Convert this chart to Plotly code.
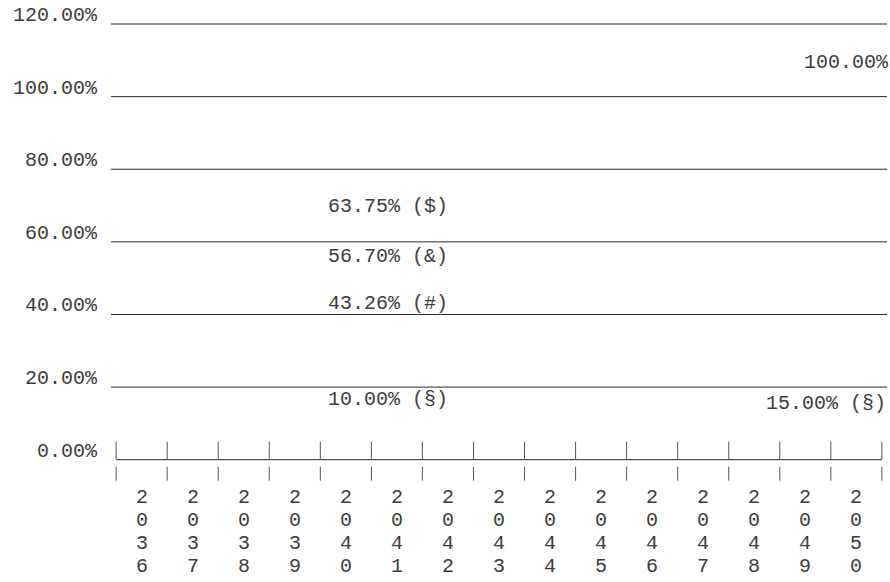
import plotly.graph_objects as go

# ---- data ----
years = list(range(2036, 2051))
y_tick_values = [0, 20, 40, 60, 80, 100, 120]
y_tick_labels = ["0.00%", "20.00%", "40.00%", "60.00%", "80.00%", "100.00%", "120.00%"]

label_years = [2050, 2041, 2041, 2041, 2041, 2050]
label_values = [100.00, 63.75, 56.70, 43.26, 10.00, 15.00]
label_suffixes = ["", " ($)", " (&)", " (#)", " (§)", " (§)"]

# ---- style / placement ----
FONT = "Liberation Mono, Courier New, monospace"
FS = 20
TXT = "#3c3c3c"
LINE = "#2a2a2a"
label_yshift = [24, 12, -13, -11, 14, -8]
label_anchor = ["right", "center", "center", "center", "center", "right"]
label_xshift = [35, -9, -9, -9, -9, 32]

fig = go.Figure()
fig.add_trace(go.Scatter(x=years, y=[None] * len(years), mode="lines",
                         showlegend=False, hoverinfo="skip"))

shapes = []
x_lo, x_hi = years[0] - 0.6, years[-1] + 0.6
for v in y_tick_values:
    if v == 0:
        x0, x1 = years[0] - 0.5, years[-1] + 0.5
    else:
        x0, x1 = x_lo, x_hi
    shapes.append(dict(type="line", xref="x", yref="y", x0=x0, x1=x1,
                       ysizemode="pixel", yanchor=v, y0=-10, y1=-10,
                       line=dict(color=LINE, width=1)))
for i in range(len(years) + 1):
    b = years[0] - 0.5 + i
    for (a0, a1) in [(8, -10), (-17, -31)]:
        shapes.append(dict(type="line", xref="x", yref="y", x0=b, x1=b,
                           ysizemode="pixel", yanchor=0, y0=a0, y1=a1,
                           line=dict(color="#555", width=1)))

annotations = []
for yr in years:
    for k, ch in enumerate(str(yr)):
        annotations.append(dict(x=yr, y=0, xref="x", yref="y", text=ch,
                                showarrow=False, yshift=-48 - 23 * k,
                                font=dict(family=FONT, size=FS, color=TXT)))
for yr, val, suf, ys, anc, xs in zip(label_years, label_values, label_suffixes,
                                     label_yshift, label_anchor, label_xshift):
    annotations.append(dict(x=yr, y=val, xref="x", yref="y",
                            text=f"{val:.2f}%{suf}", showarrow=False,
                            xanchor=anc, xshift=xs, yshift=ys,
                            font=dict(family=FONT, size=FS, color=TXT)))

fig.update_layout(
    width=890, height=582,
    margin=dict(l=111, r=3, t=14, b=96, autoexpand=False),
    paper_bgcolor="white", plot_bgcolor="white",
    font=dict(family=FONT, size=FS, color=TXT),
    showlegend=False,
    shapes=shapes, annotations=annotations,
    xaxis=dict(range=[x_lo, x_hi], showgrid=False, zeroline=False,
               showline=False, showticklabels=False, ticks="", automargin=False),
    yaxis=dict(range=[-10, 120], tickvals=y_tick_values, ticktext=y_tick_labels,
               showgrid=False, zeroline=False, showline=False, ticks="",
               ticklabelstandoff=13, automargin=False,
               tickfont=dict(family=FONT, size=FS, color=TXT)),
)
fig.write_html("out.html", config={"displayModeBar": False},
               post_script="document.body.style.margin='0';document.body.style.overflow='hidden';")
